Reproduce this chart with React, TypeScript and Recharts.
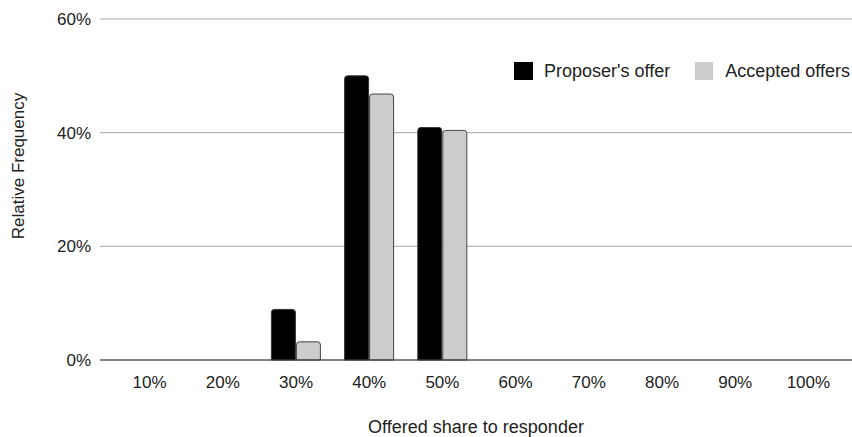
import React from 'react';
import { BarChart, Bar, XAxis, YAxis, CartesianGrid, ReferenceLine } from 'recharts';

const shares = ['10%', '20%', '30%', '40%', '50%', '60%', '70%', '80%', '90%', '100%'];
const proposerOffer = [0, 0, 8.9, 50.0, 40.9, 0, 0, 0, 0, 0];
const acceptedOffers = [0, 0, 3.2, 46.8, 40.4, 0, 0, 0, 0, 0];
const yTicks = [0, 20, 40, 60];

const data = shares.map((share, i) => ({
  share,
  proposer: proposerOffer[i],
  accepted: acceptedOffers[i],
}));

const font = 'Arial, "Liberation Sans", sans-serif';
const textColor = '#222';

// legend sits top-right inside the plot area, like the original
const LegendBox = () => (
  <div
    style={{
      position: 'absolute',
      top: 61,
      right: 2,
      display: 'flex',
      alignItems: 'center',
      fontFamily: font,
      fontSize: 18,
      color: textColor,
      lineHeight: '20px',
    }}
  >
    <span style={{ width: 19, height: 18, background: '#000', display: 'inline-block', marginRight: 11 }} />
    <span style={{ marginRight: 25 }}>Proposer's offer</span>
    <span style={{ width: 18, height: 18, background: '#ccc', display: 'inline-block', marginRight: 12 }} />
    <span>Accepted offers</span>
  </div>
);

const YTitle = () => {
  const x = 24;
  const y = 166;
  return (
    <text
      x={x}
      y={y}
      transform={`rotate(-90, ${x}, ${y})`}
      textAnchor="middle"
      fill={textColor}
      fontSize={17}
      fontFamily={font}
    >
      Relative Frequency
    </text>
  );
};

const App: React.FC = () => {
  return (
    <div style={{ position: 'absolute', left: 0, top: 0, width: 852, height: 437, background: '#fff' }}>
      <BarChart
        width={852}
        height={437}
        data={data}
        margin={{ top: 19, right: 0, bottom: 47, left: 0 }}
        barSize={24}
        barGap={1}
      >
        <CartesianGrid vertical={false} stroke="#a8a8a8" />
        <XAxis
          dataKey="share"
          height={30}
          axisLine={false}
          tickLine={false}
          padding={{ left: 13, right: 7 }}
          tick={{ fill: textColor, fontSize: 17, fontFamily: font }}
          tickMargin={10}
          label={{ value: 'Offered share to responder', position: 'insideBottom', offset: -43, fill: textColor, fontSize: 18, fontFamily: font }}
        />
        <YAxis
          width={100}
          domain={[0, 60]}
          ticks={yTicks}
          axisLine={false}
          tickLine={false}
          tickFormatter={(v: number) => `${v}%`}
          tick={{ fill: textColor, fontSize: 17, fontFamily: font }}
          tickMargin={3}
          label={<YTitle />}
        />
        <ReferenceLine y={0} stroke="#333" />
        <Bar dataKey="proposer" name="Proposer's offer" fill="#000" stroke="#333" radius={[3, 3, 0, 0]} isAnimationActive={false} />
        <Bar dataKey="accepted" name="Accepted offers" fill="#ccc" stroke="#444" radius={[3, 3, 0, 0]} isAnimationActive={false} />
      </BarChart>
      <LegendBox />
    </div>
  );
};

export default App;
